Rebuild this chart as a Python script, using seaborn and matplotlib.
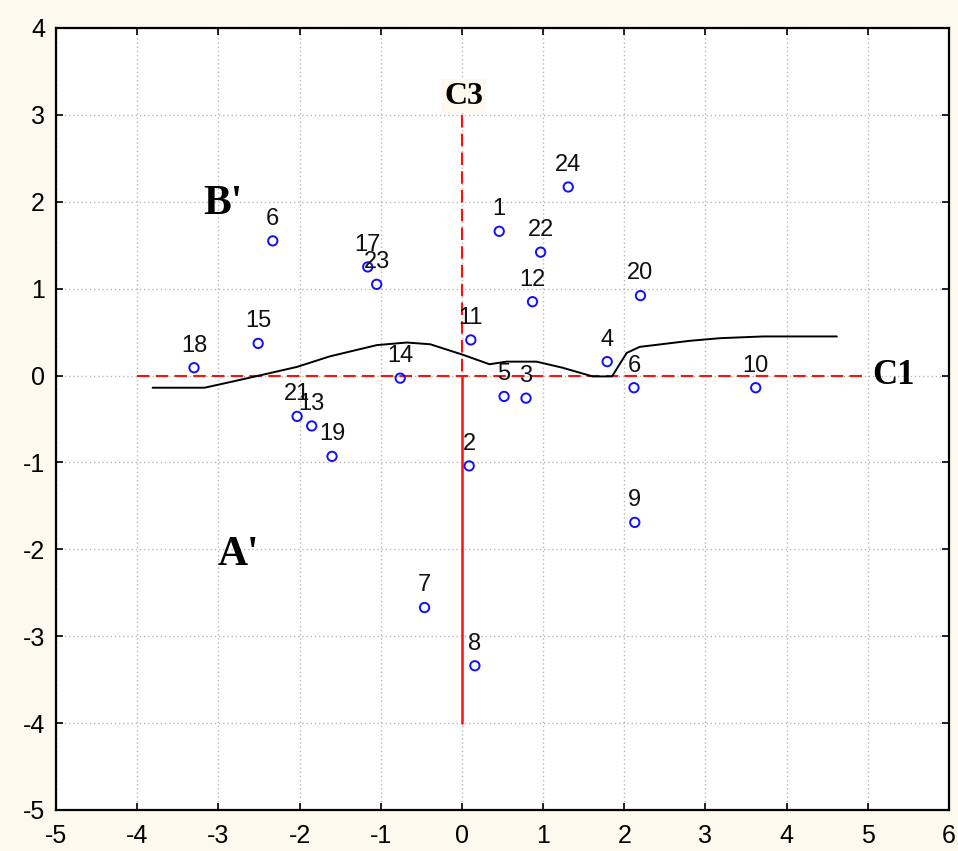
import matplotlib
matplotlib.use("Agg")
import matplotlib.pyplot as plt
import seaborn as sns
import pandas as pd
import numpy as np

# ---- data ----
labels = ["24", "1", "22", "12", "20", "11", "4", "6", "10", "5", "3", "2", "9",
          "7", "8", "6", "17", "23", "15", "18", "14", "21", "13", "19"]
xs = [1.31, 0.46, 0.97, 0.87, 2.20, 0.11, 1.79, 2.12, 3.62, 0.52, 0.79, 0.09, 2.13,
      -0.46, 0.16, -2.33, -1.16, -1.05, -2.51, -3.30, -0.76, -2.03, -1.85, -1.60]
ys = [2.17, 1.66, 1.42, 0.85, 0.92, 0.41, 0.16, -0.14, -0.14, -0.24, -0.26, -1.04, -1.69,
      -2.67, -3.34, 1.55, 1.25, 1.05, 0.37, 0.09, -0.03, -0.47, -0.58, -0.93]

curve_x = [-3.81, -3.17, -2.83, -2.45, -2.03, -1.63, -1.05, -0.68, -0.39, 0.01, 0.34,
           0.55, 0.92, 1.24, 1.61, 1.85, 2.03, 2.19, 2.81, 3.18, 3.71, 4.62]
curve_y = [-0.14, -0.14, -0.07, 0.01, 0.10, 0.22, 0.35, 0.38, 0.36, 0.24, 0.13,
           0.16, 0.16, 0.09, -0.01, -0.01, 0.26, 0.33, 0.40, 0.43, 0.45, 0.45]

ticks_x = list(range(-5, 7))
ticks_y = list(range(-5, 5))

df = pd.DataFrame({"x": xs, "y": ys, "label": labels})
curve = pd.DataFrame({"x": curve_x, "y": curve_y})

sns.set_theme(style="white")
plt.rcParams["font.family"] = ["Liberation Sans", "DejaVu Sans"]
plt.rcParams["axes.unicode_minus"] = False
plt.rcParams["text.color"] = "black"

bg = "#FEF9EE"
fig = plt.figure(figsize=(9.58, 8.51), dpi=100, facecolor=bg)
ax = fig.add_axes([0.0585, 0.0482, 0.932, 0.9189])
ax.set_facecolor("white")

ax.set_xlim(-5, 6)
ax.set_ylim(-5, 4)
ax.set_xticks(ticks_x)
ax.set_yticks(ticks_y)
ax.grid(True, color="#b8b8b8", linestyle=(0, (1, 2)), linewidth=1.0)
ax.set_axisbelow(True)

# red axes lines
ax.plot([-4, 5], [0, 0], color="#ff1010", linestyle=(0, (6, 3)), linewidth=1.5, zorder=2)
ax.plot([0, 0], [3, 0], color="#ff1010", linestyle=(0, (6, 3)), linewidth=1.5, zorder=2)
ax.plot([0, 0], [0, -4], color="#ff1010", linestyle="-", linewidth=1.8, zorder=2)

# black boundary curve
sns.lineplot(data=curve, x="x", y="y", sort=False, color="black", linewidth=1.4, ax=ax,
             zorder=3, estimator=None)

# points
sns.scatterplot(data=df, x="x", y="y", ax=ax, marker="o", s=45,
                facecolors="none", edgecolor="#1010ff", linewidth=1.4, zorder=4)

for _, r in df.iterrows():
    ax.annotate(r["label"], (r["x"], r["y"]), xytext=(0, 8), textcoords="offset points",
                ha="center", va="bottom", fontsize=17, color="#111111", zorder=5)

serif = ["Liberation Serif", "DejaVu Serif"]
ax.text(0.02, 3.05, "C3", family=serif, fontweight="bold", fontsize=23, ha="center",
        va="bottom", color="black", bbox=dict(facecolor=bg, edgecolor="none", pad=2))
ax.text(5.05, 0.0, "C1", family=serif, fontweight="bold", fontsize=25, ha="left",
        va="center", color="black")
ax.text(-2.95, 1.98, "B'", family=serif, fontweight="bold", fontsize=30, ha="center",
        va="center", color="black")
ax.text(-2.75, -2.06, "A'", family=serif, fontweight="bold", fontsize=30, ha="center",
        va="center", color="black")

ax.set_xlabel("")
ax.set_ylabel("")
for s in ax.spines.values():
    s.set_color("black")
    s.set_linewidth(1.6)
ax.tick_params(axis="both", direction="in", length=5, width=1.2, colors="black",
               labelsize=18, top=True, right=True, bottom=True, left=True, pad=8)
ax.tick_params(axis="x", pad=10)

fig.savefig("out.png", dpi=100, facecolor=bg)
